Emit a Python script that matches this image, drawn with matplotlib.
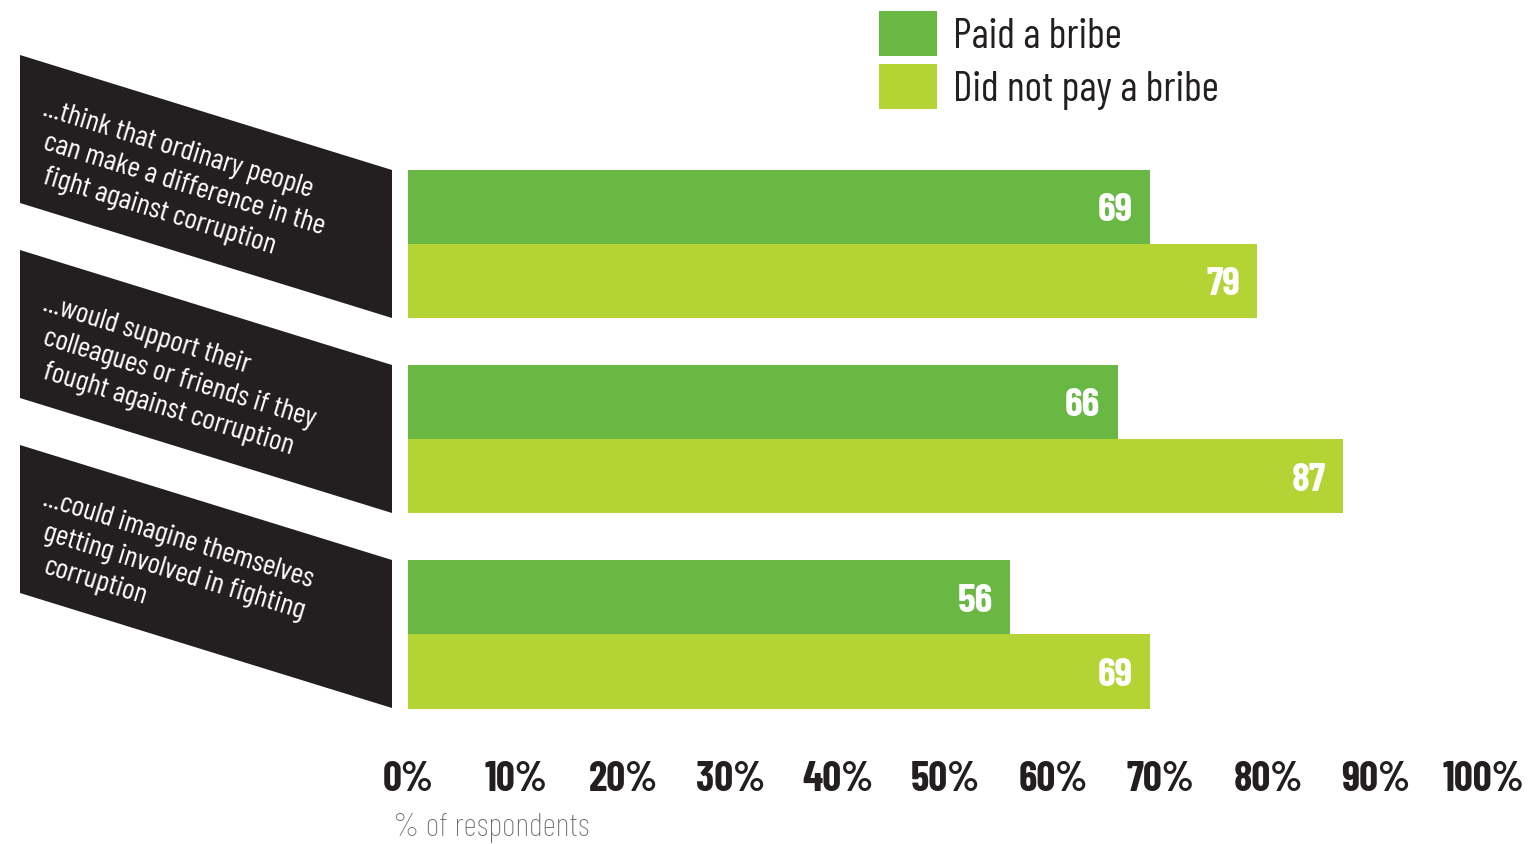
import matplotlib
matplotlib.use("Agg")
import matplotlib.pyplot as plt
from matplotlib.patches import Polygon, Rectangle

# data
questions = [
    ["...think that ordinary people", "can make a difference in the", "fight against corruption"],
    ["...would support their", "colleagues or friends if they", "fought against corruption"],
    ["...could imagine themselves", "getting involved in fighting", "corruption"],
]
series_names = ["Paid a bribe", "Did not pay a bribe"]
paid = [69, 66, 56]
not_paid = [79, 87, 69]
ticks = list(range(0, 101, 10))
tick_labels = [f"{t}%" for t in ticks]

dark_green = "#68b843"
light_green = "#b4d334"
panel_color = "#231f20"

W, H = 1534, 844
cond = ["Barlow Condensed", "DejaVu Sans"]


def fx(x):
    return x / W


def fy(y):
    return 1 - y / H


fig = plt.figure(figsize=(W / 100, H / 100), dpi=100)

# bar area
ax = fig.add_axes([fx(408), fy(730), (1483 - 408) / W, 580 / H])
pos = list(range(len(paid)))
h = 0.38
ax.barh([p - h / 2 for p in pos], paid, height=h, color=dark_green)
ax.barh([p + h / 2 for p in pos], not_paid, height=h, color=light_green)
for p, v in zip(pos, paid):
    ax.text(v - 1.6, p - h / 2 + 0.02, str(v), ha="right", va="center", color="white",
            fontsize=29, fontweight="bold", family=cond)
for p, v in zip(pos, not_paid):
    ax.text(v - 1.6, p + h / 2 + 0.02, str(v), ha="right", va="center", color="white",
            fontsize=29, fontweight="bold", family=cond)

ax.set_xlim(0, 100)
ax.set_ylim(2.49, -0.48)
ax.set_xticks(ticks)
ax.set_xticklabels(tick_labels, fontsize=30, fontweight="bold", family=cond, color=panel_color)
ax.tick_params(axis="x", length=0, pad=22)
ax.set_yticks([])
for s in ax.spines.values():
    s.set_visible(False)

fig.text(fx(393), fy(828), "% of respondents", ha="left", va="center", fontsize=24,
         family=cond, fontweight="light", color="#6d6e70")

# legend
leg_rows = [(11, dark_green), (64, light_green)]
for (top, col), name in zip(leg_rows, series_names):
    fig.add_artist(Rectangle((fx(879), fy(top + 45)), 58 / W, 45 / H, transform=fig.transFigure,
                             color=col, lw=0))
    fig.text(fx(953), fy(top + 26), name, ha="left", va="center", fontsize=30,
             family=cond, color=panel_color)

# slanted label panels
for i, lines in enumerate(questions):
    top = 55 + 195 * i
    pts = [(20, top), (392, top + 115), (392, top + 263), (20, top + 148)]
    fig.add_artist(Polygon([(fx(x), fy(y)) for x, y in pts], closed=True,
                           transform=fig.transFigure, color=panel_color, lw=0))
    for k, line in enumerate(lines):
        fig.text(fx(42), fy(top + 60 + 34 * k), line, ha="left", va="baseline",
                 rotation=-17, rotation_mode="anchor", fontsize=21.5, family=cond,
                 color="white")

fig.savefig("out.png", dpi=100)
